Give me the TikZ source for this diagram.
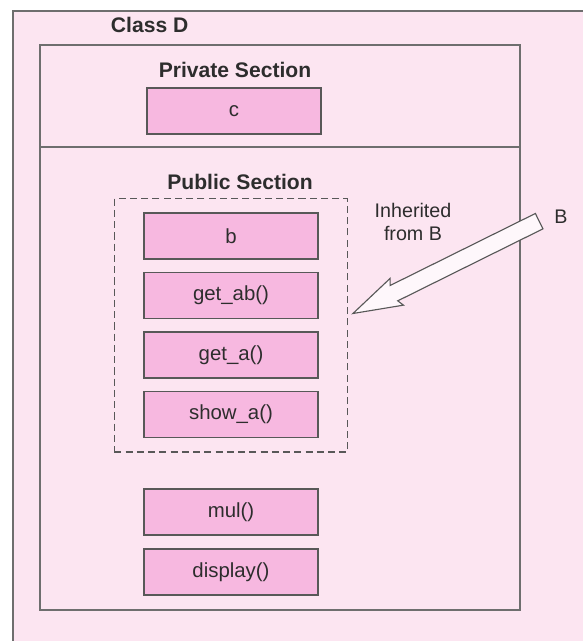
\documentclass[tikz,border=0pt]{standalone}
\usepackage{fontspec}
\setmainfont{Liberation Sans}
\usepackage{xcolor}
\usetikzlibrary{shapes.arrows,positioning,calc,fit}
\definecolor{pagepink}{RGB}{252, 229, 241}
\definecolor{memberpink}{RGB}{247, 184, 224}
\definecolor{framegray}{RGB}{110, 110, 110}
\definecolor{textgray}{RGB}{45, 45, 45}

\begin{document}
\begin{tikzpicture}[
    x=0.025cm, y=0.025cm,
    member/.style={draw=framegray!80!black, line width=1.1pt, fill=memberpink, minimum width=4.35cm, minimum height=1.15cm, inner sep=0pt, font=\fontsize{14.5}{16}\selectfont, text=textgray},
    heading/.style={font=\fontsize{15}{18}\selectfont\bfseries, text=textgray},
    plain/.style={font=\fontsize{14}{17}\selectfont, text=textgray, align=center},
    frame/.style={draw=framegray, line width=1.1pt},
    inherit/.style={draw=framegray!80!black, line width=0.9pt, dash pattern=on 5pt off 3pt, inner sep=0pt},
    bigarrow/.style={single arrow, draw=framegray!80!black, line width=0.8pt, fill=white!70!pagepink, inner xsep=0pt, inner ysep=0.2cm, single arrow head extend=0.16cm, single arrow tip angle=34, single arrow head indent=0.08cm}
]
    \useasboundingbox (0,0) rectangle (583,-641);
    \fill[white] (0,0) rectangle (583,-641);
    \clip (0,0) rectangle (583,-641);

    % outer frame and class body
    \draw[frame, fill=pagepink] (13,-11) rectangle (620,-680);
    \draw[frame] (40,-45) rectangle (520,-610);
    \draw[frame] (40,-147) -- (520,-147);

    \node[heading, anchor=west] (classname) at (106,-25) {Class D};

    % Private part
    \node[heading] (priv) at (235,-70) {Private Section};
    \node[member] (c) at (234,-111) {c};

    % Public part
    \node[heading] (pub) at (240,-182) {Public Section};
    \node[member] (b) at (231,-236) {b};
    \node[member, below=0.3cm of b] (get_ab) {get\_ab()};
    \node[member, below=0.3cm of get_ab] (get_a) {get\_a()};
    \node[member, below=0.3cm of get_a] (show_a) {show\_a()};
    \node[inherit, fit=(b)(show_a), inner xsep=0.72cm, inner ysep=0.34cm] (inh) {};

    \node[member, below=1.25cm of show_a] (mul) {mul()};
    \node[member, below=0.3cm of mul] (display) {display()};

    % Inherited from B
    \node[plain] (inhtext) at (413,-222) {Inherited\\[-1pt]from B};
    \node[plain] (baseB) at (561,-217) {B};
    \coordinate (tail) at ($(baseB.west)+(-12,-5)$);
    \coordinate (tip) at ($(inh.east)+(3,11)$);
    \path let \p1=($(tip)-(tail)$), \n1={veclen(\x1,\y1)}, \n2={atan2(\y1,\x1)} in
        node[bigarrow, minimum height=\n1, rotate=\n2, anchor=tip] (arr) at (tip) {};

\end{tikzpicture}
\end{document}
